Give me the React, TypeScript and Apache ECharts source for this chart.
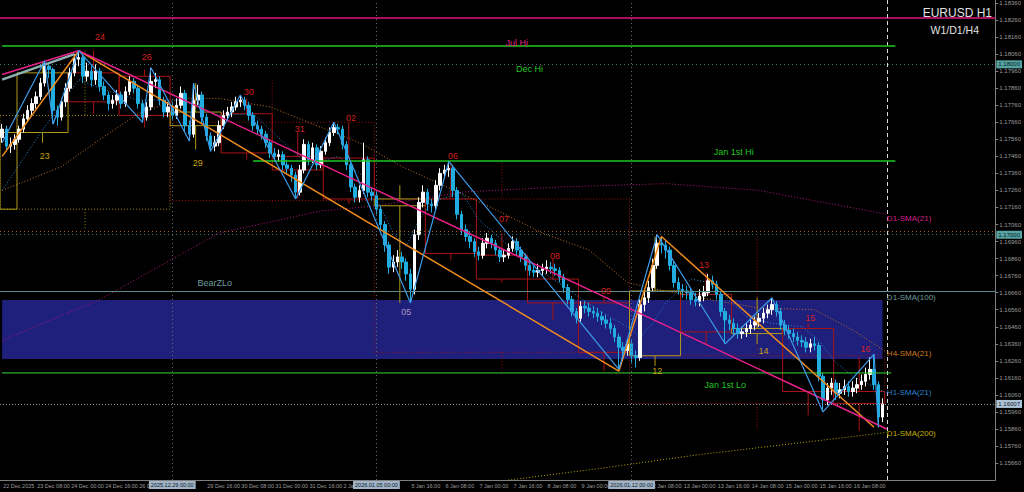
import React, { useEffect, useRef } from 'react';
import * as echarts from 'echarts';

// ---------- data (2-hour bars) ----------
const firstOpen = 1.1757;
const closes = [
  1.1762,1.1752,1.1753,1.1756,1.1762,1.1768,1.1773,1.1777,1.1781,1.1789,
  1.1799,1.1797,1.1773,1.1769,1.1778,1.1786,1.1795,1.1803,1.1804,1.1793,
  1.1796,1.1791,1.1796,1.1787,1.1782,1.1777,1.1779,1.1782,1.1777,1.1784,
  1.1790,1.1786,1.1777,1.1769,1.1775,1.1790,1.1791,1.1779,1.1772,1.1775,
  1.1770,1.1776,1.1783,1.1764,1.1759,1.1779,1.1782,1.1769,1.1758,1.1752,
  1.1754,1.1764,1.1770,1.1772,1.1775,1.1778,1.1779,1.1776,1.1770,1.1764,
  1.1762,1.1759,1.1754,1.1748,1.1746,1.1747,1.1741,1.1739,1.1735,1.1725,
  1.1738,1.1753,1.1744,1.1751,1.1741,1.1749,1.1754,1.1760,1.1763,1.1762,
  1.1753,1.1741,1.1728,1.1722,1.1726,1.1744,1.1725,1.1723,1.1715,1.1706,
  1.1694,1.1681,1.1684,1.1687,1.1684,1.1677,1.1668,1.1700,1.1719,1.1725,
  1.1718,1.1717,1.1729,1.1736,1.1738,1.1739,1.1726,1.1712,1.1703,1.1699,
  1.1696,1.1690,1.1688,1.1695,1.1698,1.1695,1.1691,1.1687,1.1688,1.1692,
  1.1696,1.1691,1.1687,1.1682,1.1679,1.1678,1.1679,1.1680,1.1681,1.1680,
  1.1679,1.1675,1.1669,1.1662,1.1655,1.1651,1.1658,1.1657,1.1655,1.1654,
  1.1652,1.1650,1.1648,1.1645,1.1640,1.1634,1.1632,1.1636,1.1629,1.1628,
  1.1659,1.1663,1.1669,1.1682,1.1695,1.1694,1.1691,1.1682,1.1672,1.1668,
  1.1667,1.1666,1.1662,1.1661,1.1664,1.1666,1.1673,1.1671,1.1665,1.1655,
  1.1650,1.1648,1.1645,1.1642,1.1643,1.1645,1.1647,1.1649,1.1651,1.1654,
  1.1656,1.1659,1.1655,1.1647,1.1644,1.1642,1.1640,1.1638,1.1637,1.1634,
  1.1636,1.1635,1.1617,1.1603,1.1610,1.1613,1.1607,1.1609,1.1611,1.1608,
  1.1610,1.1612,1.1614,1.1618,1.1621,1.1612,1.1593,1.16007,
];
const highs = [
  1.1765,1.1764,1.1757,1.1759,1.1764,1.1771,1.1776,1.1780,1.1784,1.1792,
  1.1802,1.1801,1.1798,1.1776,1.1780,1.1789,1.1798,1.1806,1.1808,1.1806,
  1.1801,1.1799,1.1800,1.1798,1.1790,1.1784,1.1782,1.1785,1.1784,1.1787,
  1.1793,1.1792,1.1788,1.1779,1.1778,1.1798,1.1795,1.1793,1.1781,1.1778,
  1.1778,1.1780,1.1787,1.1785,1.1767,1.1789,1.1788,1.1784,1.1771,1.1760,
  1.1758,1.1767,1.1773,1.1775,1.1778,1.1781,1.1782,1.1781,1.1778,1.1772,
  1.1767,1.1764,1.1761,1.1756,1.1751,1.1750,1.1749,1.1744,1.1741,1.1737,
  1.1741,1.1756,1.1755,1.1754,1.1753,1.1752,1.1757,1.1763,1.1766,1.1765,
  1.1764,1.1755,1.1743,1.1730,1.1729,1.1754,1.1746,1.1728,1.1725,1.1717,
  1.1708,1.1696,1.1688,1.1691,1.1690,1.1686,1.1680,1.1703,1.1722,1.1729,
  1.1727,1.1721,1.1732,1.1739,1.1741,1.1743,1.1741,1.1728,1.1714,1.1706,
  1.1702,1.1698,1.1693,1.1698,1.1701,1.1700,1.1697,1.1693,1.1691,1.1695,
  1.1699,1.1698,1.1693,1.1689,1.1684,1.1682,1.1683,1.1683,1.1685,1.1684,
  1.1683,1.1681,1.1677,1.1671,1.1664,1.1657,1.1661,1.1661,1.1660,1.1658,
  1.1657,1.1655,1.1653,1.1651,1.1647,1.1642,1.1637,1.1639,1.1638,1.1632,
  1.1662,1.1667,1.1673,1.1686,1.1700,1.1699,1.1697,1.1693,1.1684,1.1675,
  1.1671,1.1670,1.1669,1.1666,1.1668,1.1670,1.1677,1.1676,1.1673,1.1667,
  1.1657,1.1653,1.1651,1.1648,1.1646,1.1648,1.1650,1.1652,1.1654,1.1657,
  1.1659,1.1663,1.1661,1.1657,1.1650,1.1647,1.1645,1.1643,1.1641,1.1640,
  1.1639,1.1640,1.1637,1.1619,1.1613,1.1616,1.1615,1.1613,1.1615,1.1614,
  1.1614,1.1616,1.1618,1.1622,1.1628,1.1630,1.1614,1.1604,
];
const lows = [
  1.1754,1.1749,1.1748,1.1750,1.1754,1.1760,1.1766,1.1770,1.1774,1.1779,
  1.1787,1.1792,1.1765,1.1764,1.1767,1.1775,1.1784,1.1793,1.1799,1.1789,
  1.1790,1.1787,1.1788,1.1784,1.1779,1.1773,1.1774,1.1776,1.1774,1.1775,
  1.1782,1.1783,1.1774,1.1766,1.1767,1.1773,1.1786,1.1776,1.1769,1.1769,
  1.1767,1.1768,1.1774,1.1760,1.1755,1.1757,1.1776,1.1765,1.1755,1.1749,
  1.1749,1.1752,1.1762,1.1767,1.1769,1.1773,1.1775,1.1773,1.1767,1.1761,
  1.1759,1.1756,1.1751,1.1745,1.1743,1.1743,1.1738,1.1736,1.1731,1.1721,
  1.1723,1.1736,1.1741,1.1742,1.1738,1.1739,1.1747,1.1752,1.1758,1.1759,
  1.1750,1.1738,1.1725,1.1719,1.1719,1.1724,1.1722,1.1720,1.1712,1.1703,
  1.1690,1.1677,1.1678,1.1681,1.1680,1.1673,1.1660,1.1665,1.1697,1.1716,
  1.1714,1.1713,1.1715,1.1726,1.1733,1.1734,1.1722,1.1709,1.1700,1.1696,
  1.1692,1.1687,1.1685,1.1686,1.1692,1.1692,1.1688,1.1684,1.1684,1.1686,
  1.1690,1.1688,1.1684,1.1679,1.1676,1.1675,1.1675,1.1676,1.1677,1.1677,
  1.1676,1.1672,1.1666,1.1659,1.1652,1.1648,1.1649,1.1654,1.1652,1.1651,
  1.1649,1.1647,1.1645,1.1642,1.1637,1.1621,1.1626,1.1629,1.1625,1.1622,
  1.1626,1.1655,1.1660,1.1667,1.1680,1.1689,1.1686,1.1679,1.1669,1.1665,
  1.1663,1.1662,1.1659,1.1658,1.1658,1.1661,1.1664,1.1668,1.1662,1.1652,
  1.1636,1.1644,1.1641,1.1639,1.1639,1.1640,1.1642,1.1644,1.1646,1.1648,
  1.1651,1.1653,1.1652,1.1644,1.1641,1.1639,1.1637,1.1635,1.1634,1.1631,
  1.1631,1.1632,1.1614,1.1596,1.1600,1.1606,1.1603,1.1604,1.1606,1.1605,
  1.1605,1.1607,1.1609,1.1611,1.1615,1.1609,1.1587,1.1590,
];

const slotCount = 234;
const labelStep = 8;
// labels hidden under the week-separator boxes in the reference are left blank
const xTickLabels = [
  '22 Dec 2025','23 Dec 08:00','24 Dec 00:00','24 Dec 16:00','26 Dec 08:00','',
  '29 Dec 16:00','30 Dec 08:00','31 Dec 00:00','31 Dec 16:00','2 Jan 08:00','',
  '5 Jan 16:00','6 Jan 08:00','7 Jan 00:00','7 Jan 16:00','8 Jan 08:00','9 Jan 00:00',
  '','12 Jan 08:00','13 Jan 00:00','13 Jan 16:00','14 Jan 08:00','15 Jan 00:00',
  '15 Jan 16:00','16 Jan 08:00',
];
const weekIdx = [40, 88, 148];
const weekLabels = ['2025.12.29 00:00', '2026.01.05 00:00', '2026.01.12 00:00'];
const nowIdx = 208;

const yMin = 1.155607;
const yMax = 1.183776;
const yTicks = [
  1.1566,1.1576,1.1586,1.1596,1.1606,1.1616,1.1626,1.1636,1.1646,1.1656,1.1666,1.1676,1.1686,1.1696,
  1.1706,1.1716,1.1726,1.1736,1.1746,1.1756,1.1766,1.1776,1.1786,1.1796,1.1806,1.1816,1.1826,1.1836,
];

// daily candles (outlines)
const d1Start = [0, 4, 16, 28, 40, 52, 64, 76, 88, 100, 112, 124, 136, 148, 160, 172, 184, 196];
const d1End = [4, 16, 28, 40, 52, 64, 76, 88, 100, 112, 124, 136, 148, 160, 172, 184, 196, 208];
const d1Open = [1.1715,1.1760,1.1795,1.1793,1.1764,1.1771,1.1746,1.1745,1.1717,1.1721,1.1688,1.1674,1.1660,1.1629,1.1665,1.1642,1.1645,1.1608];
const d1Close = [1.1760,1.1795,1.1778,1.1770,1.1772,1.1748,1.1738,1.1721,1.1721,1.1689,1.1674,1.1660,1.1631,1.1667,1.1643,1.1645,1.1608,1.1601];
const d1High = [1.1760,1.1801,1.1808,1.1797,1.1789,1.1780,1.1760,1.1766,1.1729,1.1742,1.1701,1.1686,1.1663,1.1699,1.1678,1.1663,1.1648,1.1628];
const d1Low = [1.1715,1.1754,1.1771,1.1763,1.1750,1.1744,1.1721,1.1718,1.1660,1.1685,1.1672,1.1650,1.1620,1.1623,1.1635,1.1636,1.1594,1.1585];

// weekly candles (dotted outlines)
const w1Start = [0, 40, 88, 148];
const w1End = [40, 88, 148, 208];
const w1Open = [1.1715, 1.1766, 1.1721, 1.1629];
const w1Close = [1.1770, 1.1720, 1.1631, 1.1601];
const w1High = [1.1808, 1.1791, 1.1742, 1.1699];
const w1Low = [1.1703, 1.1718, 1.1620, 1.1585];

// zigzag and trend lines: [bar index, price]
const zigzag = [[0,1.1754],[10,1.1802],[12,1.1765],[18,1.1808],[33,1.1766],[35,1.1798],[44,1.1755],[45,1.1789],[49,1.1749],[56,1.1782],[69,1.1721],[78,1.1766],[96,1.1660],[105,1.1743],[145,1.1621],[154,1.1700],[170,1.1636],[181,1.1663],[193,1.1596],[205,1.1630],[206,1.1587]];
const pinkTrend = [[0,1.1794],[18,1.1808],[208,1.1586]];
const tealTrend = [[0,1.1791],[17,1.1806]];
const orangeTrend = [[0,1.1746],[18,1.1808],[145,1.1620],[155,1.1699],[205,1.1587]];

// moving averages: [bar index, price]
const smaD1_21 = [[0,1.1638],[23,1.1662],[51,1.1701],[75,1.1714],[88,1.1717],[108,1.1725],[131,1.1728],[156,1.1730],[178,1.1726],[208,1.1712]];
const smaH4_21 = [[0,1.1726],[14,1.1740],[23,1.1756],[32,1.1771],[42,1.1780],[51,1.1780],[63,1.1775],[75,1.1763],[84,1.1754],[94,1.1740],[101,1.1732],[115,1.1716],[127,1.1701],[138,1.1691],[147,1.1672],[152,1.1669],[164,1.1663],[178,1.1657],[191,1.1656],[200,1.1644],[208,1.1631]];
const smaH1_21 = [[0,1.1726],[8,1.1756],[15,1.1781],[18,1.1791],[23,1.1786],[32,1.1779],[42,1.1779],[51,1.1770],[59,1.1771],[68,1.1750],[72,1.1741],[79,1.1746],[85,1.1734],[89,1.1716],[92,1.1701],[95,1.1693],[98,1.1709],[101,1.1719],[108,1.1725],[112,1.1709],[123,1.1685],[133,1.1668],[140,1.1656],[147,1.1646],[150,1.1640],[153,1.1648],[156,1.1660],[162,1.1674],[166,1.1672],[170,1.1664],[175,1.1652],[181,1.1648],[188,1.1646],[192,1.1638],[196,1.1625],[200,1.1617],[208,1.1607]];
const smaD1_200 = [[119,1.1556],[141,1.1563],[164,1.1571],[188,1.1578],[208,1.1584]];

// levels
const julHi = 1.18272;
const decHi = 1.18108;
const janHi = 1.17433;
const orangeLevel = 1.17022;
const sma100Level = 1.16670;
const bandTop = 1.16617;
const bandBottom = 1.16271;
const janLo = 1.16189;
const roundLevels = [1.18, 1.17];
const bidPrice = 1.16007;

// text labels
const labelText = ['24','26','30','31','02','06','07','08','09','13','15','16','23','29','05','12','14','Jul Hi','Dec Hi','Jan 1st Hi','BearZLo','Jan 1st Lo','D1-SMA(21)','D1-SMA(100)','H4-SMA(21)','H1-SMA(21)','D1-SMA(200)'];
const labelIdx = [22.5,33.6,58,69.5,82,105.7,118,130.4,142,165.4,190,202.5,9.6,46,94.7,154,178.5,121.4,124,171.7,49.8,170.3,208.4,208.4,208.4,208.4,208.4];
const labelPrice = [1.18160,1.18043,1.17838,1.17621,1.17685,1.17462,1.17092,1.16875,1.16670,1.16822,1.16512,1.16330,1.17462,1.17421,1.16547,1.16201,1.16318,1.18125,1.17973,1.17486,1.16717,1.16118,1.17098,1.16634,1.16306,1.16077,1.15831];

const RED = '#d42020';
const GOLD = '#c9a20c';
const GREEN = '#22c322';
const labelColor = [RED,RED,RED,RED,RED,RED,RED,RED,RED,RED,RED,RED,GOLD,GOLD,'#a898c0',GOLD,GOLD,'#e0207f',GREEN,GREEN,'#6f9c9c',GREEN,'#d0208a','#6f9c9c','#d07a20','#2a80d0','#c0b000'];

const FONT = 'Liberation Sans, Arial, sans-serif';

function boxRenderer(starts: number[], ends: number[], opens: number[], cls: number[], his: number[], los: number[], dotted: boolean, bullColor: string, bearColor: string) {
  return (params: any, api: any) => {
    const i = params.dataIndex;
    const w = api.size([1, 0])[0];
    const pO = api.coord([starts[i], opens[i]]);
    const xa = pO[0] - w / 2;
    const xb = api.coord([ends[i], opens[i]])[0] - w / 2;
    const yO = pO[1];
    const yC = api.coord([starts[i], cls[i]])[1];
    const yH = api.coord([starts[i], his[i]])[1];
    const yL = api.coord([starts[i], los[i]])[1];
    const color = cls[i] >= opens[i] ? bullColor : bearColor;
    const top = Math.min(yO, yC);
    const bot = Math.max(yO, yC);
    const xm = (xa + xb) / 2;
    const style: any = { stroke: color, lineWidth: 1, fill: 'none', lineDash: dotted ? [1, 2] : null };
    return {
      type: 'group',
      children: [
        { type: 'rect', shape: { x: xa, y: top, width: xb - xa, height: Math.max(bot - top, 1) }, style },
        { type: 'line', shape: { x1: xm, y1: yH, x2: xm, y2: top }, style },
        { type: 'line', shape: { x1: xm, y1: bot, x2: xm, y2: yL }, style },
      ],
    };
  };
}

function lineSeries(data: number[][], color: string, width: number, type: any, z: number) {
  return {
    type: 'line',
    data,
    showSymbol: false,
    symbol: 'none',
    silent: true,
    z,
    lineStyle: { color, width, type },
  };
}

export default function App() {
  const ref = useRef<HTMLDivElement>(null);
  useEffect(() => {
    document.body.style.margin = '0';
    document.body.style.background = '#000';
    const chart = echarts.init(ref.current!, undefined, { renderer: 'svg' });
    const cats = Array.from({ length: slotCount }, (_, i) => String(i));
    const candleData = closes.map((c, i) => [i === 0 ? firstOpen : closes[i - 1], c, lows[i], highs[i]]);
    const showTick = (idx: number) => idx % labelStep === 0 && idx / labelStep < xTickLabels.length;

    const hLine = (v: number, color: string, type: any, width = 1) => ({ yAxis: v, lineStyle: { color, type, width }, label: { show: false } });
    const hiLabel = (v: number, text: string, bg: string, fg: string) => ({
      yAxis: v,
      lineStyle: { color: '#3d7676', type: [1, 3], width: 1 },
      label: { show: true, position: 'end', formatter: text, backgroundColor: bg, color: fg, fontSize: 6, fontFamily: FONT, padding: [1, 2], distance: 1 },
    });

    const option: any = {
      animation: false,
      backgroundColor: '#000000',
      title: [
        { text: 'EURUSD H1', right: 27, top: 2, textStyle: { color: '#e0e0e0', fontSize: 12, fontWeight: 'normal', fontFamily: FONT } },
        { text: 'W1/D1/H4', right: 40, top: 19, textStyle: { color: '#e0e0e0', fontSize: 10.5, fontWeight: 'normal', fontFamily: FONT } },
      ],
      grid: { left: 0, right: 28, top: 0, bottom: 12 },
      xAxis: {
        type: 'category',
        data: cats,
        boundaryGap: true,
        axisLine: { lineStyle: { color: '#7f7f7f' } },
        axisTick: { alignWithLabel: true, interval: (idx: number) => showTick(idx), length: 3, lineStyle: { color: '#7f7f7f' } },
        axisLabel: {
          interval: (idx: number) => showTick(idx),
          formatter: (_v: string, idx: number) => xTickLabels[idx / labelStep] ?? '',
          color: '#9c9c9c', fontSize: 5.5, fontFamily: FONT, align: 'left', margin: 3, padding: [0, 0, 0, 1],
        },
        splitLine: { show: false },
      },
      yAxis: {
        type: 'value',
        position: 'right',
        min: yMin,
        max: yMax,
        scale: true,
        splitLine: { show: false },
        axisLine: { show: true, lineStyle: { color: '#7f7f7f' } },
        axisTick: { show: true, customValues: yTicks, length: 3, lineStyle: { color: '#7f7f7f' } },
        axisLabel: { customValues: yTicks, formatter: (v: number) => v.toFixed(5), color: '#9c9c9c', fontSize: 6, fontFamily: FONT, margin: 4 },
      },
      series: [
        {
          type: 'line', data: [], silent: true, z: 1,
          markArea: { silent: true, itemStyle: { color: '#1f1f7c' }, data: [[{ xAxis: 0, yAxis: bandTop }, { xAxis: 207, yAxis: bandBottom }]] },
        },
        {
          type: 'custom', z: 2, silent: true,
          data: w1Start.map((s, i) => [s, w1Open[i]]),
          renderItem: boxRenderer(w1Start, w1End, w1Open, w1Close, w1High, w1Low, true, '#9a8a10', '#9a1010'),
        },
        {
          type: 'custom', z: 2, silent: true,
          data: d1Start.map((s, i) => [s, d1Open[i]]),
          renderItem: boxRenderer(d1Start, d1End, d1Open, d1Close, d1High, d1Low, false, '#b09a18', '#a81414'),
        },
        lineSeries(smaD1_21, '#b0187a', 1, [1, 2], 3),
        lineSeries(smaH4_21, '#c07228', 1, [1, 2], 3),
        lineSeries(smaH1_21, '#2a80d0', 1, [1, 2], 3),
        lineSeries(smaD1_200, '#b8a800', 1, [1, 2], 3),
        {
          type: 'candlestick',
          data: candleData,
          z: 4,
          silent: true,
          barWidth: 3,
          itemStyle: { color: '#ffffff', color0: '#22ade0', borderColor: '#ffffff', borderColor0: '#22ade0', borderWidth: 1 },
          markLine: {
            silent: true,
            precision: 5,
            symbol: ['none', 'none'],
            data: [
              hLine(julHi, '#e0157f', 'solid', 1.5),
              hLine(sma100Level, '#5f8a8a', 'solid', 1),
              hLine(orangeLevel, '#a8601a', [1, 3], 1),
              hiLabel(roundLevels[0], '1.18000', '#57a3a3', '#062020'),
              hiLabel(roundLevels[1], '1.17000', '#57a3a3', '#062020'),
              {
                yAxis: bidPrice,
                lineStyle: { color: '#8a9aa8', type: [1, 2], width: 1 },
                label: { show: true, position: 'end', formatter: bidPrice.toFixed(5), backgroundColor: '#aec2d6', color: '#10202e', fontSize: 6, fontFamily: FONT, padding: [1, 2], distance: 1 },
              },
              ...weekIdx.map((w, k) => ({
                xAxis: w,
                lineStyle: { color: '#6a6a6a', type: [1, 3], width: 1 },
                label: { show: true, position: 'start', formatter: weekLabels[k], backgroundColor: '#9fb2c6', color: '#101c28', fontSize: 5.5, fontFamily: FONT, padding: [1, 2], distance: 1 },
              })),
              { xAxis: nowIdx, lineStyle: { color: '#d8d8d8', type: [4, 3], width: 1 }, label: { show: false } },
            ],
          },
        },
        lineSeries([[0, decHi], [210, decHi]], '#1ec81e', 1.5, 'solid', 5),
        lineSeries([[59, janHi], [210, janHi]], '#1ec81e', 1.5, 'solid', 5),
        lineSeries([[0, janLo], [209, janLo]], '#3ad83a', 1, 'solid', 5),
        lineSeries(tealTrend, '#8fb0b0', 2.5, 'solid', 5),
        lineSeries(orangeTrend, '#f08c1e', 1.5, 'solid', 5),
        lineSeries(pinkTrend, '#e8208a', 1.5, 'solid', 5),
        lineSeries(zigzag, '#3d9be9', 1.2, 'solid', 6),
        {
          type: 'custom', z: 7, silent: true,
          data: labelIdx.map((x, i) => [x, labelPrice[i]]),
          renderItem: (params: any, api: any) => {
            const i = params.dataIndex;
            const p = api.coord([labelIdx[i], labelPrice[i]]);
            const isSide = labelText[i].indexOf('SMA') >= 0;
            return {
              type: 'text',
              x: p[0],
              y: p[1],
              style: {
                text: labelText[i],
                fill: labelColor[i],
                fontSize: isSide ? 8 : 9,
                fontFamily: FONT,
                align: isSide ? 'left' : 'center',
                verticalAlign: 'middle',
              },
            };
          },
        },
      ],
    };
    chart.setOption(option);
    return () => chart.dispose();
  }, []);
  return <div ref={ref} style={{ width: 1024, height: 492, background: '#000' }} />;
}
